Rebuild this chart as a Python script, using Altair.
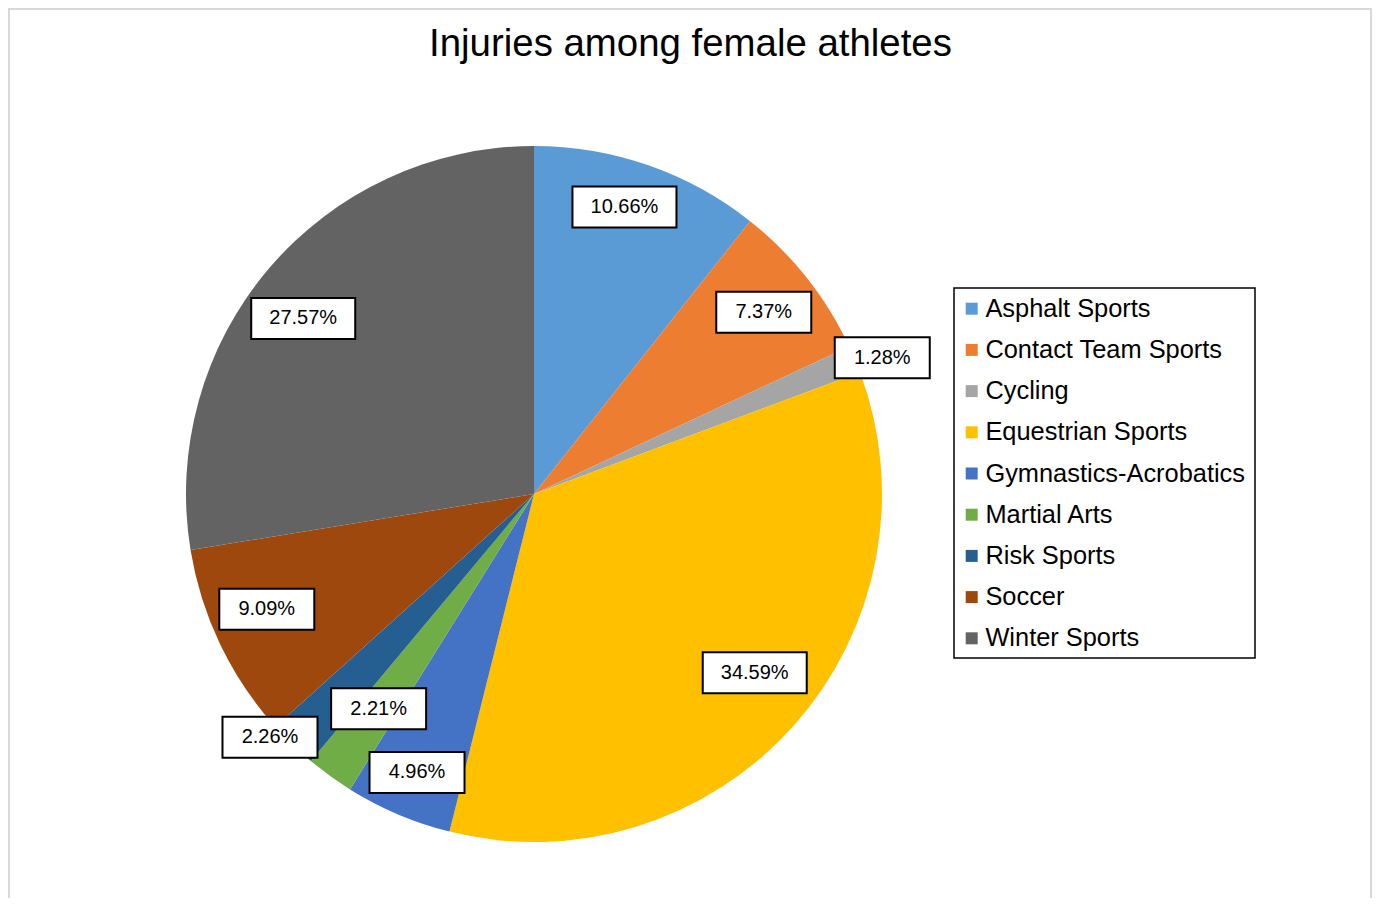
import altair as alt
import pandas as pd

categories = ["Asphalt Sports", "Contact Team Sports", "Cycling", "Equestrian Sports",
              "Gymnastics-Acrobatics", "Martial Arts", "Risk Sports", "Soccer", "Winter Sports"]
shares = [10.66, 7.37, 1.28, 34.59, 4.96, 2.21, 2.26, 9.09, 27.57]
colors = ["#5B9BD5", "#ED7D31", "#A5A5A5", "#FFC000", "#4472C4",
          "#70AD47", "#255E91", "#9E480E", "#636363"]
title_text = "Injuries among female athletes"

# label placement (layout only): distance from centre and small angular nudge (degrees)
label_radius = [301, 293, 374, 284, 302, 265, 359, 291, 290]
label_turn = [-1.7, 0, 1.4, -2.8, -0.2, 0, 3.4, 2.3, -3.1]

FONT = "Liberation Sans"
W, H = 1364, 890
CX, CY, R = 526, 486, 348

df = pd.DataFrame({"cat": categories, "share": shares, "idx": list(range(len(categories))),
                   "lr": label_radius, "lt": label_turn})

color = alt.Color(
    "cat:N",
    scale=alt.Scale(domain=categories, range=colors),
    legend=alt.Legend(title=None, orient="none", legendX=951, legendY=288,
                      symbolType="square", symbolSize=144, symbolStrokeWidth=0,
                      labelFontSize=25.4, labelFont=FONT, labelColor="black",
                      rowPadding=14.2, labelOffset=1, padding=0, labelLimit=400),
)

pie = alt.Chart(df).mark_arc(outerRadius=R).encode(
    theta=alt.Theta("share:Q", stack=True),
    color=color,
    order=alt.Order("idx:Q"),
    x=alt.value(CX),
    y=alt.value(CY),
)

lab = (
    alt.Chart(df)
    .transform_joinaggregate(total="sum(share)")
    .transform_window(cum="sum(share)", sort=[alt.SortField("idx")], frame=[None, 0])
    .transform_calculate(
        ang="2*PI*(datum.cum - datum.share/2)/datum.total + datum.lt*PI/180",
    )
    .transform_calculate(
        lx=f"{CX} + datum.lr*sin(datum.ang)",
        ly=f"{CY} - datum.lr*cos(datum.ang)",
        txt="format(datum.share, '.2f') + '%'",
    )
    .transform_calculate(bw="9*length(datum.txt) + 50")
    .transform_calculate(
        bx1="datum.lx - datum.bw/2",
        bx2="datum.lx + datum.bw/2",
        by1="datum.ly - 20.5",
        by2="datum.ly + 20.5",
    )
)

boxes = lab.mark_rect(fill="white", stroke="black", strokeWidth=2).encode(
    x=alt.X("bx1:Q", scale=None, axis=None),
    x2="bx2:Q",
    y=alt.Y("by1:Q", scale=None, axis=None),
    y2="by2:Q",
)

texts = lab.mark_text(font=FONT, fontSize=20, color="black", align="center",
                      baseline="middle").encode(
    x=alt.X("lx:Q", scale=None, axis=None),
    y=alt.Y("ly:Q", scale=None, axis=None),
    text="txt:N",
)

title = alt.Chart(pd.DataFrame({"t": [title_text]})).mark_text(
    font=FONT, fontSize=38.4, color="black", align="center", baseline="alphabetic"
).encode(x=alt.value(682.5), y=alt.value(48), text="t:N")

frame = alt.Chart(pd.DataFrame({"a": [0]})).mark_rect(
    fillOpacity=0, stroke="#d9d9d9", strokeWidth=2
).encode(x=alt.value(1), x2=alt.value(1363), y=alt.value(1), y2=alt.value(960))

legend_box = alt.Chart(pd.DataFrame({"a": [0]})).mark_rect(
    fillOpacity=0, stroke="black", strokeWidth=1.5
).encode(x=alt.value(946), x2=alt.value(1247), y=alt.value(280), y2=alt.value(650))

chart = (
    alt.layer(frame, pie, boxes, texts, title, legend_box)
    .properties(width=W, height=H, padding=0, autosize=alt.AutoSizeParams(type="none"))
    .configure_view(stroke=None)
)

chart.save("out.html", embed_options={"renderer": "svg", "actions": False})
